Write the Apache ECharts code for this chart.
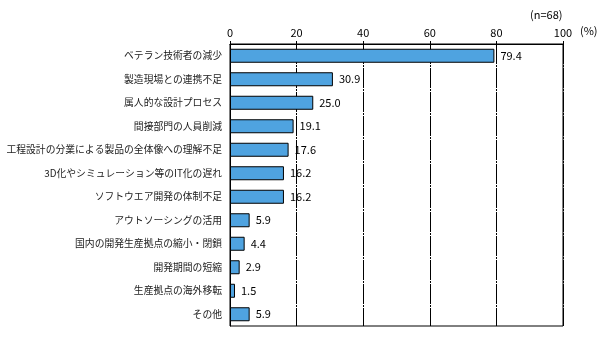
<!DOCTYPE html>
<html><head><meta charset="utf-8">
<script src="https://cdn.jsdelivr.net/npm/echarts@6/dist/echarts.min.js"></script>
<style>html,body{margin:0;padding:0;background:#fff}#c{width:604px;height:341px}</style>
</head><body><div id="c"></div>
<script>
const categories = ["ベテラン技術者の減少","製造現場との連携不足","属人的な設計プロセス","間接部門の人員削減","工程設計の分業による製品の全体像への理解不足","3D化やシミュレーション等のIT化の遅れ","ソフトウエア開発の体制不足","アウトソーシングの活用","国内の開発生産拠点の縮小・閉鎖","開発期間の短縮","生産拠点の海外移転","その他"];
const values = [79.4,30.9,25.0,19.1,17.6,16.2,16.2,5.9,4.4,2.9,1.5,5.9];
const tickValues = [0,20,40,60,80,100];
const font = '"Noto Sans CJK JP", sans-serif';
const chart = echarts.init(document.getElementById('c'));
chart.setOption({
  animation:false,
  grid:{left:230,right:41,top:44,bottom:15,show:true,borderColor:'#000',borderWidth:1,backgroundColor:'transparent'},
  xAxis:{type:'value',position:'top',min:0,max:100,interval:20,
    axisLine:{show:true,lineStyle:{color:'#000'}},
    axisTick:{show:true,length:3,lineStyle:{color:'#000'}},
    axisLabel:{color:'#000',fontSize:11,fontFamily:font,margin:6},
    splitLine:{show:true,lineStyle:{color:'#000',type:[20,1,2,1],width:1}}},
  yAxis:{type:'category',inverse:true,data:categories,
    axisLine:{show:true,lineStyle:{color:'#000'}},axisTick:{show:false},
    axisLabel:{color:'#222',fontSize:9.8,fontFamily:font,margin:8}},
  series:[{type:'bar',data:values,barWidth:14,
    itemStyle:{color:'#4FA3E0',borderColor:'#000',borderWidth:1},
    label:{show:true,position:'right',distance:6,color:'#000',fontSize:11,fontFamily:font,
      formatter:p=>p.value.toFixed(1)}}],
  graphic:[
    {type:'text',left:580,top:25,style:{text:'(%)',fill:'#000',font:'11px '+font}},
    {type:'text',left:530,top:9,style:{text:'(n=68)',fill:'#000',font:'11px '+font}}
  ]
});
</script></body></html>
